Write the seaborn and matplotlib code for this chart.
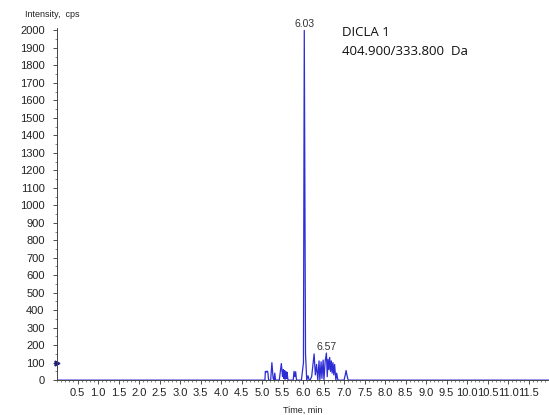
import numpy as np
import pandas as pd
import matplotlib
matplotlib.use('Agg')
import matplotlib.pyplot as plt
import seaborn as sns
from matplotlib.ticker import MultipleLocator, FixedLocator

# Chromatogram data (time in min, intensity in cps)
time_min = [0.0, 5.07, 5.08, 5.10, 5.12, 5.14, 5.16, 5.21, 5.24, 5.27, 5.29, 5.31, 5.33,
            5.42, 5.47, 5.50, 5.52, 5.53, 5.55, 5.56, 5.58, 5.60, 5.61, 5.63, 5.64,
            5.76, 5.78, 5.80, 5.82, 5.84, 5.96, 5.99, 6.01, 6.03, 6.06, 6.09, 6.12,
            6.15, 6.17, 6.21, 6.27, 6.30, 6.33, 6.36, 6.39, 6.41, 6.44, 6.46, 6.49,
            6.51, 6.54, 6.57, 6.59, 6.61, 6.63, 6.65, 6.67, 6.69, 6.71, 6.73, 6.75,
            6.77, 6.80, 6.82, 6.85, 7.00, 7.03, 7.05, 7.07, 7.10, 12.0]
intensity = [0, 0, 50, 45, 52, 48, 0, 0, 100, 10, 0, 40, 0,
             0, 95, 20, 60, 10, 55, 5, 50, 10, 45, 5, 0,
             0, 50, 20, 48, 0, 0, 60, 100, 2000, 150, 0, 25,
             0, 0, 20, 150, 30, 90, 0, 110, 0, 105, 10, 115,
             0, 110, 155, 20, 120, 60, 130, 50, 110, 40, 100, 30,
             90, 0, 40, 0, 0, 30, 55, 30, 0, 0]
peak_labels = [(6.03, 2000, '6.03'), (6.57, 155, '6.57')]
xtick_vals = np.arange(0.5, 12.0, 0.5)
ytick_vals = np.arange(0, 2001, 100)

df = pd.DataFrame({'Time': time_min, 'Intensity': intensity})

sns.set_style('ticks')
plt.rcParams['font.family'] = ['Liberation Sans', 'DejaVu Sans']

fig = plt.figure(figsize=(5.49, 4.15), dpi=100)
ax = fig.add_axes([0.104, 0.084, 0.896, 0.849])

sns.lineplot(data=df, x='Time', y='Intensity', ax=ax, color='#2d2dd6',
             linewidth=0.9, estimator=None, sort=False)
ax.plot([0], [100], marker='>', color='#1a1a80', markersize=3.5, clip_on=False)

ax.set_xlim(0, 12.0)
ax.set_ylim(0, 2015)
ax.xaxis.set_major_locator(FixedLocator(xtick_vals))
ax.xaxis.set_minor_locator(MultipleLocator(0.1))
ax.yaxis.set_major_locator(FixedLocator(ytick_vals))
ax.yaxis.set_minor_locator(MultipleLocator(50))
ax.set_xticklabels([f'{v:.1f}' for v in xtick_vals])
ax.set_yticklabels([f'{int(v)}' for v in ytick_vals])
ax.tick_params(axis='both', which='major', length=3, width=0.6, labelsize=8,
               colors='#333333', labelcolor='#222222')
ax.tick_params(axis='both', which='minor', length=1.5, width=0.5, colors='#555555')
ax.tick_params(axis='y', pad=6)
ax.tick_params(axis='x', pad=3)
for s in ['top', 'right']:
    ax.spines[s].set_visible(False)
for s in ['left', 'bottom']:
    ax.spines[s].set_linewidth(0.7)
    ax.spines[s].set_color('#444444')

ax.set_xlabel('Time, min', fontsize=6.5, color='#222222', labelpad=5)
ax.set_ylabel('')
fig.text(0.045, 0.966, 'Intensity,  cps', fontsize=6.5, color='#222222', va='center')

for t, v, lab in peak_labels:
    ax.annotate(lab, (t, v), xytext=(0, 1), textcoords='offset points',
                ha='center', va='bottom', fontsize=7.5, color='#333333')

ax.text(0.579, 0.986, 'DICLA 1', transform=ax.transAxes, fontsize=9.5,
        family=['Open Sans', 'DejaVu Sans'], va='center', color='#111111')
ax.text(0.579, 0.932, '404.900/333.800  Da', transform=ax.transAxes, fontsize=9.5,
        family=['Open Sans', 'DejaVu Sans'], va='center', color='#111111')

fig.savefig('out.png', dpi=100)
